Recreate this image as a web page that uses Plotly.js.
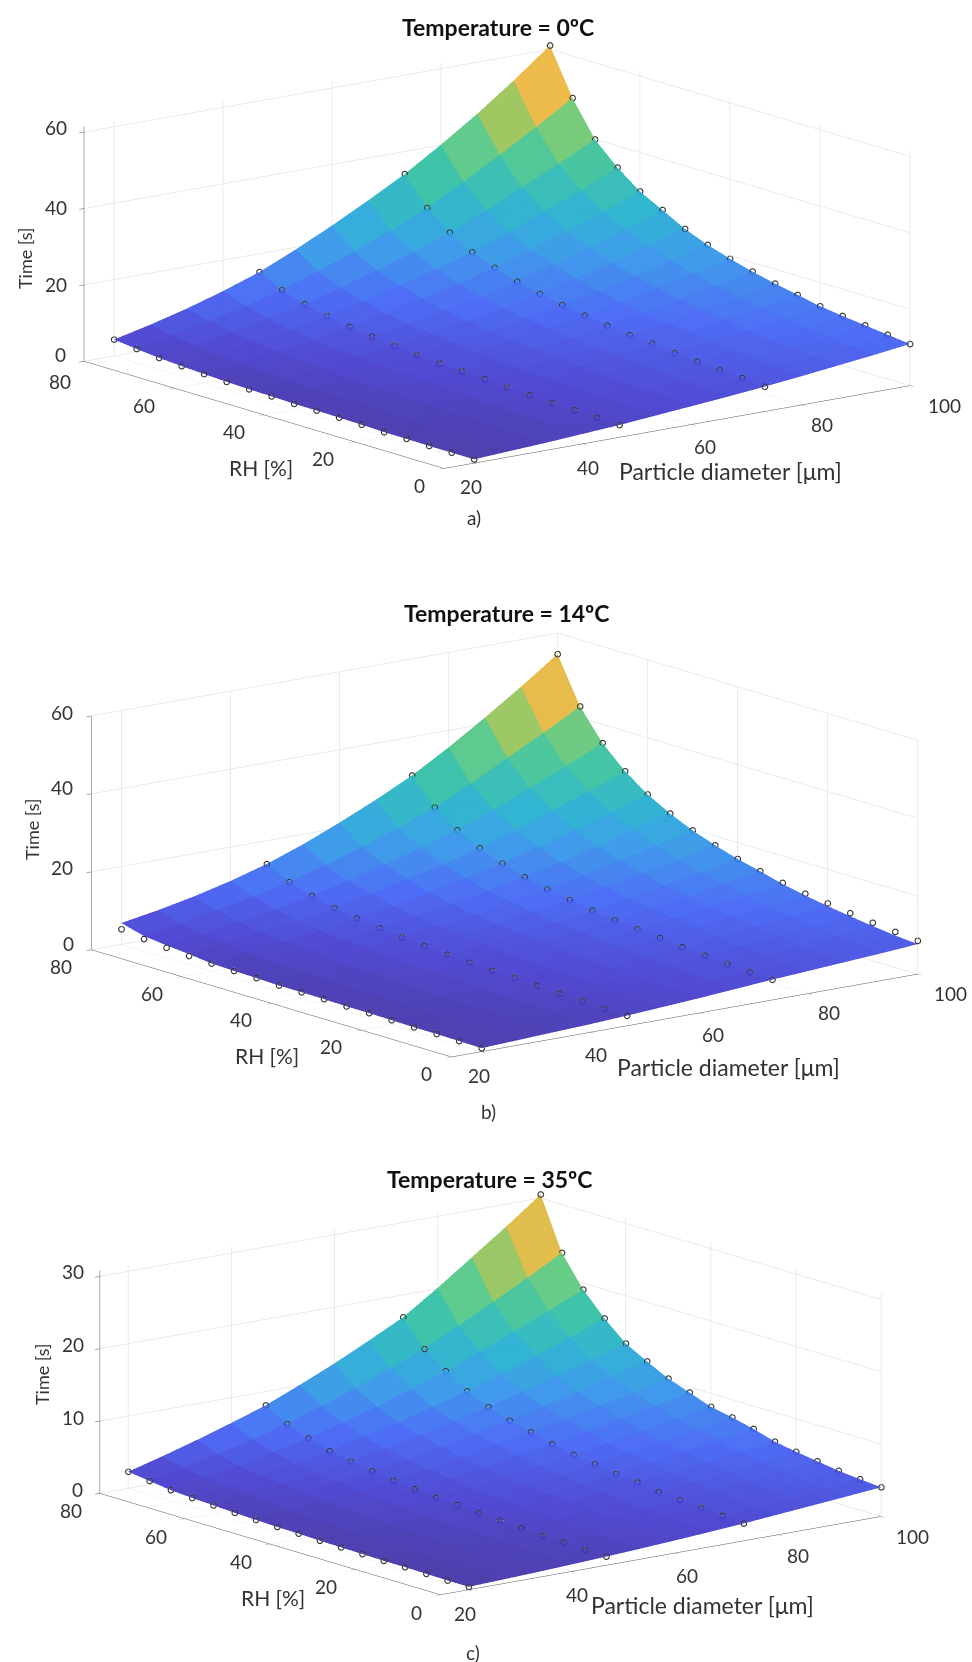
<!DOCTYPE html>
<html><head><meta charset="utf-8">
<script src="https://cdn.plot.ly/plotly-3.0.1.min.js"></script>
<style>html,body{margin:0;padding:0;background:#fff}#c{width:972px;height:1662px}</style></head>
<body><div id="c"></div>
<script>
const RH = [0,5,10,15,20,25,30,35,40,45,50,55,60,65,70,75,80];
const gridDiam = [20,26.67,33.33,40,46.67,53.33,60,66.67,73.33,80,86.67,93.33,100];
const dotDiam = [20,46.67,73.33,100];

// surface tables: one row per RH, one column per gridDiam
const surfA = [
[1.0,1.5,2.0,2.6,3.2,4.0,4.8,5.6,6.5,7.5,8.6,9.7,10.9],
[1.0,1.5,2.1,2.7,3.4,4.2,5.1,6.0,7.0,8.1,9.2,10.4,11.6],
[1.0,1.6,2.2,2.9,3.6,4.4,5.3,6.3,7.3,8.5,9.7,11.0,12.3],
[1.1,1.7,2.3,3.0,3.7,4.6,5.6,6.7,7.8,9.0,10.3,11.6,13.0],
[1.1,1.7,2.4,3.2,4.0,5.0,6.0,7.1,8.3,9.6,10.9,12.3,13.8],
[1.3,2.0,2.7,3.5,4.3,5.4,6.5,7.7,9.0,10.4,11.9,13.4,15.0],
[1.4,2.1,2.9,3.8,4.7,5.8,7.0,8.2,9.5,11.0,12.7,14.4,16.2],
[1.5,2.3,3.1,4.0,5.0,6.2,7.4,8.7,10.2,11.9,13.7,15.6,17.6],
[1.5,2.4,3.3,4.3,5.3,6.6,8.0,9.5,11.1,12.9,14.9,17.0,19.2],
[1.7,2.6,3.6,4.7,5.8,7.2,8.7,10.3,12.1,14.1,16.3,18.6,21.1],
[1.8,2.8,3.9,5.1,6.4,7.9,9.6,11.4,13.3,15.6,18.1,20.7,23.5],
[2.0,3.1,4.3,5.6,7.1,8.8,10.6,12.6,14.7,17.4,20.3,23.4,26.7],
[2.3,3.5,4.9,6.3,7.9,9.8,11.9,14.1,16.6,19.6,22.8,26.2,29.8],
[2.6,4.0,5.5,7.2,9.0,11.2,13.6,16.1,18.9,22.4,26.2,30.1,34.3],
[3.0,4.6,6.4,8.3,10.3,12.9,15.8,18.9,22.3,26.4,30.7,35.2,39.9],
[3.6,5.4,7.5,9.8,12.3,15.5,19.0,22.8,27.0,32.1,37.5,43.1,49.0],
[4.3,6.5,9.0,11.9,15.2,19.4,24.0,28.9,34.1,40.1,46.5,53.5,61.0]];
const surfB = [
[0.9,1.3,1.7,2.1,2.6,3.2,3.8,4.5,5.2,5.8,6.4,7.0,7.7],
[1.0,1.4,1.8,2.2,2.7,3.3,4.0,4.7,5.4,6.1,6.8,7.5,8.2],
[1.1,1.5,1.9,2.4,2.9,3.5,4.2,4.9,5.7,6.4,7.2,8.0,8.9],
[1.1,1.5,2.0,2.5,3.1,3.8,4.5,5.3,6.2,7.0,7.9,8.8,9.7],
[1.2,1.7,2.2,2.8,3.4,4.1,4.9,5.8,6.7,7.6,8.6,9.6,10.6],
[1.3,1.8,2.4,3.0,3.7,4.5,5.3,6.3,7.3,8.3,9.4,10.5,11.6],
[1.3,1.9,2.5,3.1,3.8,4.7,5.6,6.7,7.9,9.1,10.3,11.5,12.8],
[1.45,2.0,2.7,3.4,4.2,5.1,6.1,7.3,8.5,9.8,11.2,12.7,14.4],
[1.5,2.2,2.9,3.7,4.5,5.5,6.6,7.8,9.2,10.7,12.3,14.0,15.8],
[1.5,2.3,3.1,4.0,5.0,6.1,7.3,8.7,10.2,11.9,13.7,15.6,17.6],
[1.7,2.5,3.4,4.4,5.5,6.7,8.0,9.5,11.2,13.1,15.2,17.4,19.7],
[1.8,2.8,3.8,4.9,6.2,7.5,9.0,10.7,12.6,14.8,17.2,19.7,22.3],
[2.0,3.0,4.2,5.5,6.9,8.5,10.3,12.3,14.4,17.0,19.7,22.5,25.5],
[2.7,3.8,5.0,6.4,7.9,9.8,11.9,14.1,16.6,19.6,22.9,26.2,29.7],
[3.2,4.5,5.9,7.5,9.3,11.5,14.0,16.6,19.5,23.1,27.0,31.0,35.2],
[3.9,5.4,7.1,9.0,11.1,13.8,16.8,20.0,23.6,28.1,33.0,37.8,42.9],
[5.5,7.1,9.0,11.3,14.0,17.4,21.3,25.5,30.1,35.6,41.6,47.9,54.6]];
const surfC = [
[0.4,0.57,0.75,0.97,1.2,1.46,1.75,2.06,2.4,2.8,3.2,3.6,4.03],
[0.4,0.6,0.8,1.02,1.25,1.53,1.85,2.2,2.6,3.0,3.4,3.82,4.27],
[0.45,0.64,0.85,1.11,1.4,1.68,2.0,2.38,2.8,3.2,3.65,4.09,4.56],
[0.5,0.72,0.95,1.19,1.45,1.78,2.15,2.55,3.0,3.46,3.95,4.46,5.0],
[0.5,0.74,1.0,1.31,1.65,2.0,2.4,2.8,3.25,3.76,4.3,4.86,5.45],
[0.55,0.81,1.1,1.43,1.8,2.23,2.7,3.18,3.7,4.23,4.8,5.36,5.96],
[0.6,0.88,1.2,1.56,1.95,2.4,2.9,3.43,4.0,4.68,5.4,6.1,6.85],
[0.65,0.96,1.3,1.73,2.2,2.68,3.2,3.83,4.5,5.2,5.95,6.73,7.55],
[0.75,1.08,1.45,1.88,2.35,2.9,3.5,4.18,4.9,5.68,6.5,7.3,8.15],
[0.8,1.18,1.6,2.1,2.65,3.28,3.95,4.7,5.5,6.38,7.3,8.25,9.25],
[0.9,1.33,1.8,2.35,2.95,3.7,4.5,5.38,6.3,7.23,8.2,9.23,10.3],
[1.0,1.53,2.1,2.73,3.4,4.2,5.05,6.0,7.0,8.13,9.3,10.53,11.8],
[1.15,1.75,2.4,3.1,3.85,4.8,5.8,6.88,8.0,9.28,10.6,12.0,13.4],
[1.3,1.98,2.7,3.53,4.4,5.53,6.7,7.98,9.3,10.88,12.5,14.2,16.0],
[1.5,2.33,3.2,4.23,5.3,6.63,8.0,9.58,11.2,13.08,15.0,17.0,19.1],
[1.9,2.88,3.9,5.13,6.4,8.03,9.7,11.53,13.4,15.8,18.2,20.7,23.3],
[2.3,3.6,5.0,6.5,8.1,10.1,12.2,14.5,16.9,20.1,23.5,26.9,30.5]];

const dotsA20 = [1,1,1,1.1,1.1,1.3,1.4,1.5,1.5,1.7,1.8,2,2.3,2.6,3,3.6,4.3];
const dotsA47 = [3.2,3.4,3.6,3.7,4,4.3,4.7,5,5.3,5.8,6.4,7.1,7.9,9,10.3,12.3,15.2];
const dotsA73 = [6.5,7,7.3,7.8,8.3,9,9.5,10.2,11.1,12.1,13.3,14.7,16.6,18.9,22.3,27,34.1];
const dotsA100 = [10.9,11.6,12.3,13,13.8,15,16.2,17.6,19.2,21.1,23.5,26.7,29.8,34.3,39.9,49,61];
const dotsB20 = [0.9,1,1.1,1.1,1.2,1.3,1.3,1.45,1.5,1.5,1.7,1.8,2,2.2,2.6,3.1,3.9];
const dotsB47 = [2.6,2.7,2.9,3.1,3.4,3.7,3.8,4.2,4.5,5,5.5,6.2,6.9,7.9,9.3,11.1,14];
const dotsB73 = [5.2,5.4,5.7,6.2,6.7,7.3,7.9,8.5,9.2,10.2,11.2,12.6,14.4,16.6,19.5,23.6,30.1];
const dotsB100 = [8.55,9.15,9.75,10.5,11.3,12.05,13.1,14.4,15.8,17.6,19.7,22.3,25.5,29.7,35.2,42.9,54.6];
const dotsC20 = [0.4,0.4,0.45,0.5,0.5,0.55,0.6,0.65,0.75,0.8,0.9,1,1.15,1.3,1.5,1.9,2.3];
const dotsC47 = [1.2,1.25,1.4,1.45,1.65,1.8,1.95,2.2,2.35,2.65,2.95,3.4,3.85,4.4,5.3,6.4,8.1];
const dotsC73 = [2.4,2.6,2.8,3,3.25,3.7,4,4.5,4.9,5.5,6.3,7,8,9.3,11.2,13.4,16.9];
const dotsC100 = [4.03,4.27,4.56,5,5.45,5.96,6.85,7.55,8.15,9.25,10.3,11.8,13.4,16,19.1,23.3,30.5];

const diamTicks = [20,40,60,80,100];
const rhTicks = [0,20,40,60,80];
const timeTicksAB = [0,20,40,60];
const timeTicksC = [0,10,20,30];
const titles = ['Temperature = 0ºC','Temperature = 14ºC','Temperature = 35ºC'];
const captions = ['a)','b)','c)'];

const W=972,H=1662,FONT='Lato, "Open Sans", sans-serif';
const cs=[[0,'#3d2d9c'],[0.08,'#4339cd'],[0.2,'#3f60f5'],[0.33,'#3090ea'],[0.46,'#20aed0'],[0.6,'#30bfa0'],[0.72,'#5cc87c'],[0.84,'#b0c044'],[0.93,'#f0b43c'],[1,'#f4b43c']];

const panels=[
 {s:surfA,d:[dotsA20,dotsA47,dotsA73,dotsA100],zt:timeTicksAB,zr:[0,61.5],rect:[22,972,0,512],az:0.41,k:2.30,tx:498,ty:27,cx:474,cy:517,
  lab:[[25,258],[261,467],[730,471]],
  dPos:[[471,487],[588,467],[705,446],[822,425],[944,405]],
  rPos:[[419,485],[323,458],[234,432],[144,405],[60,382]],
  zPos:[[60,355],[56,284],[56,207],[56,127]]},
 {s:surfB,d:[dotsB20,dotsB47,dotsB73,dotsB100],zt:timeTicksAB,zr:[0,60],rect:[37,972,590,1100],az:0.408,k:2.31,tx:507,ty:613,cx:488,cy:1111,
  lab:[[32,829],[267,1055],[728,1067]],
  dPos:[[479,1075],[596,1054],[713,1034],[829,1013],[950,993]],
  rPos:[[426,1073],[331,1046],[241,1019],[152,993],[61,966]],
  zPos:[[68,943],[62,867],[62,788],[62,712]]},
 {s:surfC,d:[dotsC20,dotsC47,dotsC73,dotsC100],zt:timeTicksC,zr:[0,30.8],rect:[9,972,1138,1649],az:0.411,k:2.18,tx:490,ty:1179,cx:473,cy:1652,
  lab:[[42,1374],[273,1597],[702,1605]],
  dPos:[[465,1613],[577,1594],[687,1575],[798,1555],[912,1536]],
  rPos:[[416,1612],[326,1586],[241,1561],[156,1536],[71,1510]],
  zPos:[[77,1489],[73,1417],[73,1344],[73,1271]]}
];
const dir={x:-0.595,y:-0.770,z:0.23};
const E=4;
const data=[],layout={width:W,height:H,margin:{l:0,r:0,t:0,b:0},paper_bgcolor:'#fff',showlegend:false,font:{family:FONT,size:18,color:'#333'},annotations:[]};
const note=(text,x,y,size,color,angle)=>({text,xref:'paper',yref:'paper',x:x/W,y:1-y/H,xanchor:'center',yanchor:'middle',showarrow:false,textangle:angle||0,font:{family:FONT,size,color}});
panels.forEach((p,i)=>{
 const sc=i?'scene'+(i+1):'scene';
 const zmax=Math.max(...p.s.flat());
 // flat-coloured facets: every grid cell is two triangles that share one intensity
 const vx=[],vy=[],vz=[],fi=[],fj=[],fk=[],fc=[];
 const nc=gridDiam.length,nr=RH.length;
 RH.forEach((r,a)=>gridDiam.forEach((d,b)=>{vx.push(d);vy.push(r);vz.push(p.s[a][b]);}));
 for(let a=0;a<nr-1;a++)for(let b=0;b<nc-1;b++){
   const q=a*nc+b,m=(p.s[a][b]+p.s[a][b+1]+p.s[a+1][b]+p.s[a+1][b+1])/4;
   fi.push(q,q);fj.push(q+1,q+nc+1);fk.push(q+nc+1,q+nc);fc.push(m,m);
 }
 data.push({type:'mesh3d',scene:sc,x:vx,y:vy,z:vz,i:fi,j:fj,k:fk,intensity:fc,intensitymode:'cell',colorscale:cs,cmin:0,cmax:zmax*0.92,showscale:false,opacity:0.92,flatshading:true,
   lighting:{ambient:1,diffuse:0,specular:0,roughness:1,fresnel:0},hoverinfo:'skip'});
 const xs=[],ys=[],zs=[];
 dotDiam.forEach((d,j)=>RH.forEach((r,k)=>{xs.push(d);ys.push(r);zs.push(p.d[j][k]);}));
 data.push({type:'scatter3d',scene:sc,mode:'markers',x:xs,y:ys,z:zs,marker:{symbol:'circle-open',size:3.5,color:'#333',line:{color:'#333',width:1}},hoverinfo:'skip'});
 const ax=(range,tv)=>({range,tickvals:tv,showticklabels:false,title:{text:''},
   showgrid:true,gridcolor:'#d9d9d9',gridwidth:1,zeroline:false,showline:true,linecolor:'#555',linewidth:1,
   ticks:'outside',ticklen:6,tickcolor:'#555',tickwidth:1,showbackground:false,showspikes:false});
 layout[sc]={domain:{x:[p.rect[0]/W,p.rect[1]/W],y:[1-p.rect[3]/H,1-p.rect[2]/H]},
   aspectmode:'manual',aspectratio:{x:p.k,y:p.k,z:p.az*p.k},
   camera:{projection:{type:'orthographic'},up:{x:0,y:0,z:1},center:{x:0,y:0,z:0},eye:{x:dir.x*E,y:dir.y*E,z:dir.z*E}},
   xaxis:ax([14.5,100],diamTicks),yaxis:ax([0,80],rhTicks),zaxis:ax(p.zr,p.zt),bgcolor:'#fff'};
 layout.annotations.push(note('<b>'+titles[i]+'</b>',p.tx,p.ty,23,'#111'));
 layout.annotations.push(note(captions[i],p.cx,p.cy,19,'#333'));
 layout.annotations.push(note('Time [s]',p.lab[0][0],p.lab[0][1],18,'#333',-90));
 layout.annotations.push(note('RH [%]',p.lab[1][0],p.lab[1][1],21,'#333'));
 layout.annotations.push(note('Particle diameter [μm]',p.lab[2][0],p.lab[2][1],23,'#333'));
 diamTicks.forEach((v,n)=>layout.annotations.push(note(String(v),p.dPos[n][0],p.dPos[n][1],19,'#333')));
 rhTicks.forEach((v,n)=>layout.annotations.push(note(String(v),p.rPos[n][0],p.rPos[n][1],19,'#333')));
 p.zt.forEach((v,n)=>layout.annotations.push(note(String(v),p.zPos[n][0],p.zPos[n][1],19,'#333')));
});
Plotly.newPlot('c',data,layout,{displayModeBar:false});
</script></body></html>
